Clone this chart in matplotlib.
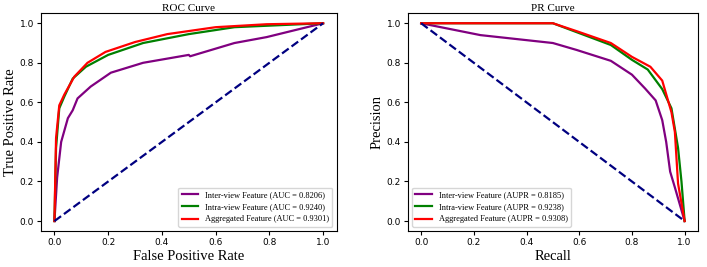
import numpy as np
import matplotlib.pyplot as plt

# ROC curves (FPR, TPR)
inter_fpr = [0.0, 0.01, 0.025, 0.05, 0.068, 0.086, 0.135, 0.21, 0.33, 0.5, 0.505, 0.67, 0.79, 1.0]
inter_tpr = [0.0, 0.22, 0.40, 0.52, 0.56, 0.62, 0.68, 0.75, 0.80, 0.84, 0.833, 0.90, 0.93, 1.0]
intra_fpr = [0.0, 0.006, 0.018, 0.037, 0.068, 0.117, 0.2, 0.33, 0.5, 0.67, 1.0]
intra_tpr = [0.0, 0.37, 0.57, 0.63, 0.72, 0.78, 0.84, 0.90, 0.945, 0.98, 1.0]
agg_fpr = [0.0, 0.006, 0.018, 0.037, 0.074, 0.123, 0.19, 0.3, 0.42, 0.6, 0.79, 1.0]
agg_tpr = [0.0, 0.42, 0.585, 0.64, 0.73, 0.80, 0.855, 0.905, 0.945, 0.98, 0.995, 1.0]

# PR curves (Recall, Precision)
inter_rec = [0.0, 0.225, 0.5, 0.59, 0.72, 0.80, 0.85, 0.89, 0.915, 0.93, 0.945, 0.963, 1.0]
inter_pre = [1.0, 0.94, 0.90, 0.865, 0.81, 0.74, 0.67, 0.61, 0.51, 0.40, 0.25, 0.17, 0.0]
intra_rec = [0.0, 0.5, 0.59, 0.72, 0.80, 0.86, 0.915, 0.95, 0.975, 0.988, 1.0]
intra_pre = [1.0, 1.0, 0.955, 0.89, 0.815, 0.766, 0.667, 0.57, 0.37, 0.2, 0.0]
agg_rec = [0.0, 0.5, 0.59, 0.72, 0.80, 0.87, 0.915, 0.95, 0.963, 0.975, 1.0]
agg_pre = [1.0, 1.0, 0.96, 0.90, 0.83, 0.78, 0.71, 0.55, 0.45, 0.19, 0.0]

roc_labels = ["Inter-view Feature (AUC = 0.8206)",
              "Intra-view Feature (AUC = 0.9240)",
              "Aggregated Feature (AUC = 0.9301)"]
pr_labels = ["Inter-view Feature (AUPR = 0.8185)",
             "Intra-view Feature (AUPR = 0.9238)",
             "Aggregated Feature (AUPR = 0.9308)"]
colors = ["purple", "green", "red"]

serif = ["Liberation Serif", "DejaVu Serif"]

fig = plt.figure(figsize=(7.07, 2.67), dpi=100)
ax1 = fig.add_axes([0.058, 0.135, 0.418, 0.815])
ax2 = fig.add_axes([0.577, 0.135, 0.41, 0.815])

for x, y, lab, c in zip([inter_fpr, intra_fpr, agg_fpr], [inter_tpr, intra_tpr, agg_tpr], roc_labels, colors):
    ax1.plot(x, y, color=c, lw=1.6, label=lab)
ax1.plot([0, 1], [0, 1], color="navy", lw=1.6, ls="--")
ax1.set_title("ROC Curve", fontsize=8, family=serif, pad=2)
ax1.set_xlabel("False Positive Rate", fontsize=10.5, family=serif, labelpad=2)
ax1.set_ylabel("True Positive Rate", fontsize=10.5, family=serif, labelpad=2)
ax1.legend(loc="lower right", prop={"family": serif, "size": 6})

for x, y, lab, c in zip([inter_rec, intra_rec, agg_rec], [inter_pre, intra_pre, agg_pre], pr_labels, colors):
    ax2.plot(x, y, color=c, lw=1.6, label=lab)
ax2.plot([0, 1], [1, 0], color="navy", lw=1.6, ls="--")
ax2.set_title("PR Curve", fontsize=8, family=serif, pad=2)
ax2.set_xlabel("Recall", fontsize=10.5, family=serif, labelpad=2)
ax2.set_ylabel("Precision", fontsize=10.5, family=serif, labelpad=2)
ax2.legend(loc="lower left", prop={"family": serif, "size": 6})

for ax in (ax1, ax2):
    ax.set_xlim(-0.05, 1.05)
    ax.set_ylim(-0.05, 1.05)
    ax.tick_params(labelsize=6.5, length=3, pad=2)

fig.savefig("out.png", dpi=100)
